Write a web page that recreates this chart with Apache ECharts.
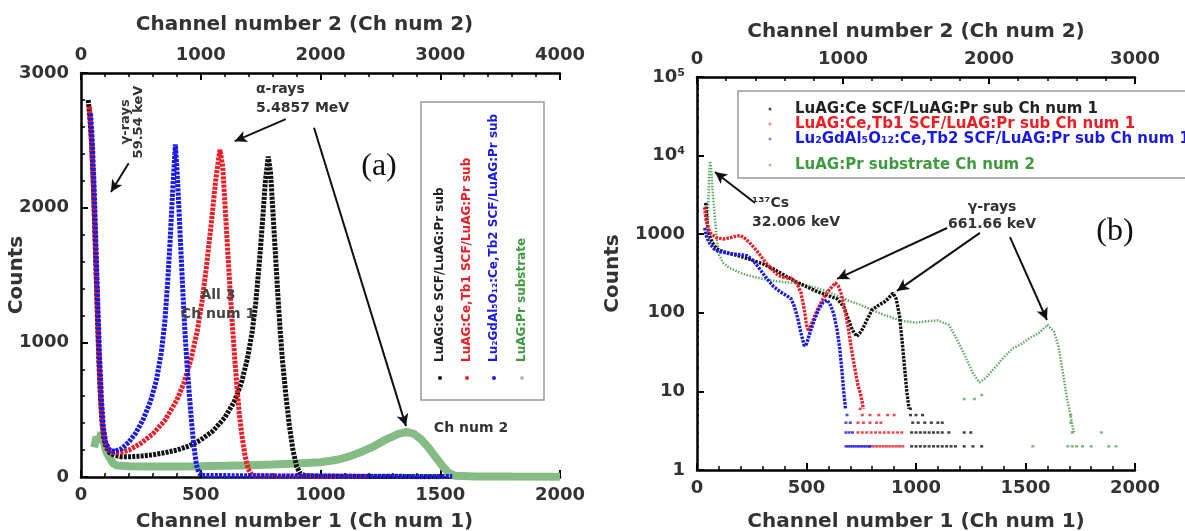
<!DOCTYPE html>
<html><head><meta charset="utf-8">
<script src="https://cdn.jsdelivr.net/npm/echarts@6/dist/echarts.min.js"></script>
<style>html,body{margin:0;padding:0;background:#fff}#c{width:1185px;height:531px}</style>
</head><body><div id="c"></div>
<script>
// ---------- Panel (a): linear counts, [channel, counts] ----------
const aBlack = [[30,2800],[38,2650],[45,2450],[52,2150],[58,1800],[64,1450],[70,1100],[76,800],[82,560],[88,400],[95,290],[105,220],[120,180],[140,160],[170,150],[200,150],[250,155],[300,165],[350,180],[400,200],[450,230],[500,275],[550,340],[600,440],[640,560],[670,700],[695,880],[715,1080],[730,1300],[745,1600],[758,1900],[770,2200],[782,2380],[792,2250],[802,1950],[812,1650],[822,1350],[832,1080],[842,850],[856,600],[870,380],[885,200],[900,80],[915,25],[935,10],[1000,6],[1200,4],[1500,2]];
const aRed = [[35,2750],[42,2550],[50,2250],[58,1850],[66,1400],[74,950],[82,600],[90,380],[100,260],[115,200],[140,180],[170,185],[200,200],[250,250],[300,320],[350,420],[400,570],[430,700],[460,880],[485,1080],[505,1300],[525,1580],[545,1900],[562,2200],[580,2430],[592,2300],[602,2000],[612,1700],[622,1400],[632,1130],[642,880],[652,650],[662,450],[674,280],[686,150],[698,60],[712,20],[730,8],[900,5],[1200,3]];
const aBlue = [[40,2700],[47,2500],[55,2150],[62,1750],[70,1300],[78,880],[86,560],[94,360],[104,250],[120,200],[140,190],[170,210],[200,260],[230,330],[260,430],[290,560],[315,720],[335,920],[350,1150],[362,1450],[372,1750],[382,2100],[394,2470],[402,2250],[410,1950],[418,1650],[426,1350],[434,1080],[442,850],[452,620],[462,400],[472,220],[482,90],[492,30],[505,12],[700,9],[1000,7],[1300,5],[1550,3]];
// green uses Ch num 2 (top axis)
const aGreen = [[110,220],[130,300],[150,260],[170,330],[190,260],[210,190],[240,140],[270,100],[300,85],[400,80],[600,78],[800,78],[1000,80],[1200,83],[1400,87],[1600,92],[1800,100],[2000,110],[2150,130],[2250,155],[2350,190],[2450,230],[2550,280],[2650,320],[2720,335],[2780,320],[2840,280],[2900,220],[2960,150],[3020,80],[3070,30],[3120,10],[3300,4],[3600,3],[4000,2]];

// ---------- Panel (b): log counts ----------
const bBlack = [[40,2500],[45,1500],[55,1000],[70,780],[90,650],[120,600],[160,560],[200,520],[250,470],[300,420],[350,360],[400,300],[450,250],[500,215],[550,185],[600,165],[640,150],[670,120],[690,85],[710,60],[730,50],[750,58],[770,75],[800,110],[830,125],[860,140],[880,160],[895,178],[910,150],[925,90],[938,40],[948,20],[958,10],[968,6]];
const bRed = [[35,2200],[40,1600],[50,1200],[65,1000],[90,900],[120,870],[150,900],[180,950],[200,960],[220,880],[250,730],[280,580],[310,450],[340,360],[370,300],[400,280],[430,275],[455,240],[475,180],[490,110],[500,70],[510,58],[525,75],[550,110],[575,150],[600,190],[620,220],[632,240],[645,220],[660,170],[675,110],[690,65],[705,35],[720,20],[735,12],[748,9],[760,6]];
const bBlue = [[35,1200],[45,900],[60,750],[80,640],[100,600],[130,580],[160,560],[200,550],[230,530],[260,450],[290,350],[320,270],[350,215],[380,185],[410,165],[430,150],[445,120],[460,85],[475,55],[490,38],[500,40],[515,55],[535,80],[555,110],[575,135],[594,145],[610,125],[625,95],[640,60],[652,35],[662,18],[670,10],[678,6]];
// green uses Ch num 2 (top axis)
const bGreen = [[75,1500],[82,5000],[90,8500],[98,6500],[105,4000],[120,1800],[135,900],[150,550],[180,430],[225,370],[300,320],[375,290],[450,270],[525,255],[600,245],[675,240],[750,225],[825,205],[900,185],[975,160],[1050,140],[1125,125],[1200,108],[1275,95],[1350,85],[1425,78],[1500,75],[1575,78],[1650,80],[1725,70],[1770,50],[1830,30],[1890,17],[1935,13],[1980,15],[2040,20],[2100,27],[2160,35],[2220,40],[2280,48],[2340,55],[2400,70],[2445,58],[2475,38],[2505,18],[2535,8],[2558,5],[2580,3]];
// isolated low-count points
const bBlackTail = [[980,2],[1000,2],[1020,2],[1040,2],[1060,2],[1080,2],[1100,2],[1120,2],[1140,2],[1160,2],[1180,2],[1220,2],[1260,2],[1300,2],[980,3],[1000,3],[1020,3],[1040,3],[1060,3],[1080,3],[1100,3],[1120,3],[1150,3],[1220,3],[1250,3],[985,4],[1010,4],[1040,4],[1070,4],[1100,4],[1120,4],[975,5],[1000,5],[1030,5],[975,6]];
const bRedTail = [[790,2],[805,2],[820,2],[835,2],[850,2],[865,2],[880,2],[895,2],[910,2],[925,2],[940,2],[735,3],[755,3],[775,3],[795,3],[815,3],[835,3],[855,3],[875,3],[895,3],[915,3],[935,3],[735,4],[760,4],[790,4],[820,4],[840,4],[755,5],[790,5],[830,5],[870,5],[900,5],[745,6]];
const bBlueTail = [[680,2],[690,2],[700,2],[710,2],[720,2],[730,2],[740,2],[750,2],[760,2],[770,2],[780,2],[790,2],[680,3],[695,3],[710,3],[680,4],[700,4],[685,5]];
const bGreenTail = [[2300,2],[2540,2],[2570,2],[2600,2],[2640,2],[2700,2],[2820,2],[2870,2],[2570,3],[2770,3],[2560,4],[2560,5],[1830,8],[1900,8],[1950,9]];

// tick label tables
const logLabels = {1:'1', 10:'10', 100:'100', 1000:'1000', 10000:'{b|10}{s|4}', 100000:'{b|10}{s|5}'};
const logMinorMult = [2,3,4,5,6,7,8,9];
const logDecades = [1,10,100,1000,10000];

const F = 'DejaVu Sans';
const C = {black:'#111111', red:'#ee1c24', blue:'#1a1ae6', green:'#85bb85', greenB:'#5fa85f', greenT:'#3f9a3f'};
const lab = {fontFamily:F, fontWeight:'bold', fontSize:18, color:'#333', formatter: v => String(v)};
const nameStyle = {fontFamily:F, fontWeight:'bold', fontSize:20, color:'#333'};
const axLine = {show:true, onZero:false, lineStyle:{color:'#000', width:2.5}};
const tick = {show:true, inside:true, length:7, lineStyle:{color:'#000', width:2}};
const mtick = {show:true, splitNumber:5, length:4, lineStyle:{color:'#000', width:1.5}};
function xa(grid, pos, max, interval, name, gap, shift) {
  return {gridIndex:grid, type:'value', position:pos, min:0, max:max, interval:interval,
    axisLine:axLine, axisTick:tick, minorTick:mtick, splitLine:{show:false},
    axisLabel:Object.assign({margin:9}, lab), name:name, nameLocation:'middle', nameGap:gap,
    nameTextStyle:Object.assign({padding:[0, shift || 0, 0, 0]}, nameStyle), nameMoveOverlap:false};
}
const lineS = (name, data, xi, yi, color, w, dash) => ({
  name:name, type:'line', xAxisIndex:xi, yAxisIndex:yi, data:data, showSymbol:false,
  silent:true, animation:false, lineStyle:{color:color, width:w, type:dash, cap:'butt'}, z:3
});
const tailS = (data, xi, yi, color) => ({type:'scatter', xAxisIndex:xi, yAxisIndex:yi, data:data,
  symbol:'rect', symbolSize:[3,2.5], itemStyle:{color:color}, silent:true, animation:false, z:3});
const arrowStyle = {symbol:['none','arrow'], symbolSize:[9,12], silent:true, animation:false,
  lineStyle:{color:'#111', width:2, type:'solid'}, label:{show:false}};
const seg = (a, b) => [{coord:a}, {coord:b}];

const sBlackA = lineS('aBlack', aBlack, 0, 0, C.black, 5, [3,1.2]);
sBlackA.markLine = Object.assign({data:[
  seg([199,2330],[125,2116]), seg([855,2657],[642,2494]), seg([973,2594],[1357,378])]}, arrowStyle);
const sBlackB = lineS('bBlack', bBlack, 2, 1, C.black, 3.4, [2.5,1.2]);
sBlackB.markLine = Object.assign({data:[
  seg([265,2500],[82,6200]), seg([1142,1200],[640,270]), seg([1292,1040],[913,190]), seg([1429,920],[1598,81])]}, arrowStyle);
// minor log ticks (2..9 of each decade)
const minorTickData = [];
logDecades.forEach(d => logMinorMult.forEach(m => minorTickData.push(d * m)));

const txt = (x, y, text, size, align, fill, extra) => Object.assign({type:'text', x:x, y:y, z:120,
  style:{text:text, fill:fill || '#333', font:'bold ' + size + 'px "DejaVu Sans"', align:align, verticalAlign:'middle'}}, extra || {});
const rot = {rotation:Math.PI/2};
const dot = (cx, cy, r, fill) => ({type:'circle', shape:{cx:cx, cy:cy, r:r}, style:{fill:fill}, z:101});

const option = {
  backgroundColor:'#fff',
  animation:false,
  grid:[{left:81, top:73, width:479, height:404, outerBoundsMode:'none'},
        {left:697, top:77, width:438, height:393, outerBoundsMode:'none'}],
  xAxis:[
    xa(0, 'bottom', 2000, 500, 'Channel number 1 (Ch num 1)', 35, 32),
    xa(0, 'top', 4000, 1000, 'Channel number 2 (Ch num 2)', 38, 32),
    xa(1, 'bottom', 2000, 500, 'Channel number 1 (Ch num 1)', 42, 0),
    xa(1, 'top', 3000, 1000, 'Channel number 2 (Ch num 2)', 35, 0)
  ],
  yAxis:[
    {gridIndex:0, type:'value', min:0, max:3000, interval:1000, axisLine:axLine, axisTick:tick, minorTick:mtick,
     splitLine:{show:false}, axisLabel:Object.assign({margin:12}, lab), name:'Counts', nameLocation:'middle',
     nameGap:54, nameRotate:90, nameTextStyle:nameStyle, nameMoveOverlap:false},
    {gridIndex:1, type:'log', logBase:10, min:1, max:100000, axisLine:axLine, axisTick:tick,
     splitLine:{show:false}, name:'Counts', nameLocation:'middle', nameGap:74, nameRotate:90,
     nameTextStyle:nameStyle, nameMoveOverlap:false,
     axisLabel:Object.assign({}, lab, {margin:12, formatter:v => logLabels[Math.round(v)] || '',
       rich:{b:{fontFamily:F, fontWeight:'bold', fontSize:18, color:'#333'},
             s:{fontFamily:F, fontWeight:'bold', fontSize:11, color:'#333', verticalAlign:'top', padding:[0,0,8,0]}}})}
  ],
  series:[
    lineS('aGreen', aGreen, 1, 0, C.green, 8, 'solid'),
    sBlackA,
    lineS('aRed', aRed, 0, 0, C.red, 5, [3,1.2]),
    lineS('aBlue', aBlue, 0, 0, C.blue, 5, [3,1.2]),
    lineS('bGreen', bGreen, 3, 1, C.greenB, 2.5, [1.5,1.5]),
    sBlackB,
    lineS('bRed', bRed, 2, 1, C.red, 3.4, [2.5,1.2]),
    lineS('bBlue', bBlue, 2, 1, C.blue, 3.4, [2.5,1.2]),
    tailS(bBlackTail, 2, 1, C.black), tailS(bRedTail, 2, 1, C.red),
    tailS(bBlueTail, 2, 1, C.blue), tailS(bGreenTail, 3, 1, C.greenB),
    {type:'lines', coordinateSystem:'cartesian2d', xAxisIndex:2, yAxisIndex:1, silent:true, animation:false, z:5,
     lineStyle:{color:'#000', width:1.5, opacity:1},
     data: minorTickData.map(v => ({coords:[[0, v], [9, v]]}))}
  ],
  graphic:[
    // legend (a), vertical
    {type:'rect', shape:{x:421, y:102, width:123, height:298}, style:{fill:'#fff', stroke:'#999', lineWidth:1.5}, z:100},
    txt(440, 362, 'LuAG:Ce SCF/LuAG:Pr sub', 12, 'left', '#222', rot),
    txt(467, 362, 'LuAG:Ce,Tb1 SCF/LuAG:Pr sub', 12, 'left', C.red, rot),
    txt(494, 362, 'Lu₂GdAl₅O₁₂:Ce,Tb2 SCF/LuAG:Pr sub', 12, 'left', C.blue, rot),
    txt(522, 362, 'LuAG:Pr substrate', 12, 'left', C.greenT, rot),
    dot(440, 378, 2, C.black), dot(467, 378, 2, C.red), dot(494, 378, 2, C.blue), dot(522, 378, 2, '#bbb'),
    // legend (b)
    {type:'rect', shape:{x:738, y:91, width:470, height:87}, style:{fill:'#fff', stroke:'#999', lineWidth:1.5}, z:100},
    dot(770, 109, 1.5, '#444'), dot(770, 124, 1.5, '#e88'), dot(770, 139, 1.5, '#88e'), dot(770, 165, 1.5, '#9c9'),
    txt(795, 109, 'LuAG:Ce SCF/LuAG:Pr sub Ch num 1', 15, 'left', '#222'),
    txt(795, 124, 'LuAG:Ce,Tb1 SCF/LuAG:Pr sub Ch num 1', 15, 'left', C.red),
    txt(795, 139, 'Lu₂GdAl₅O₁₂:Ce,Tb2 SCF/LuAG:Pr sub Ch num 1', 15, 'left', C.blue),
    txt(795, 165, 'LuAG:Pr substrate Ch num 2', 15, 'left', C.greenT),
    // annotations (a)
    txt(132, 122, 'γ-rays\n59.54 keV', 13, 'center', '#333', rot),
    txt(256, 89, 'α-rays', 14, 'left'),
    txt(256, 108, '5.4857 MeV', 14, 'left'),
    txt(218, 295, 'All 3', 14, 'center', '#444'),
    txt(218, 314, 'Ch num 1', 14, 'center', '#444'),
    txt(471, 428, 'Ch num 2', 14, 'center'),
    {type:'text', x:379, y:167, z:120, style:{text:'(a)', fill:'#111', font:'32px "Liberation Serif"', align:'center', verticalAlign:'middle'}},
    // annotations (b)
    txt(752, 203, '¹³⁷Cs', 14, 'left'),
    txt(752, 222, '32.006 keV', 14, 'left'),
    txt(992, 207, 'γ-rays', 14, 'center'),
    txt(992, 224, '661.66 keV', 14, 'center'),
    {type:'text', x:1115, y:232, z:120, style:{text:'(b)', fill:'#111', font:'32px "Liberation Serif"', align:'center', verticalAlign:'middle'}}
  ]
};
const chart = echarts.init(document.getElementById('c'), null, {renderer:'canvas'});
chart.setOption(option);
</script></body></html>
